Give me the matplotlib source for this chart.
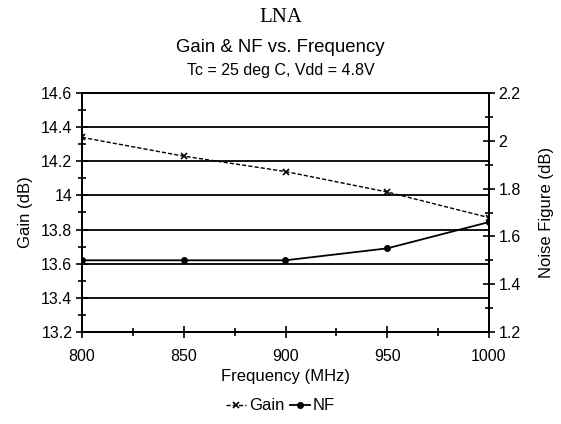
import matplotlib
matplotlib.use("Agg")
import matplotlib.pyplot as plt
from matplotlib.ticker import MultipleLocator

# dados
freq = [800, 850, 900, 950, 1000]
gain = [14.34, 14.23, 14.14, 14.02, 13.87]
nf = [1.50, 1.50, 1.50, 1.55, 1.66]

plt.rcParams['font.family'] = ['Liberation Sans', 'DejaVu Sans']

fig = plt.figure(figsize=(5.61, 4.24), dpi=100)
ax = fig.add_axes([82/561, 1 - 332/424, (489 - 82)/561, (332 - 93)/424])
ax2 = ax.twinx()

# Gain no eixo esquerdo
lg, = ax.plot(freq, gain, color="black", linestyle=(0, (3, 1.5)), linewidth=1,
              marker="x", markersize=5, markeredgewidth=1.2, label="Gain")
# NF no eixo direito
ln, = ax2.plot(freq, nf, color="black", linewidth=1.3,
               marker="o", markersize=4, label="NF")

ax.set_xlim(800, 1000)
ax.set_ylim(13.2, 14.6)
ax2.set_ylim(1.2, 2.2)

ax.xaxis.set_major_locator(MultipleLocator(50))
ax.xaxis.set_minor_locator(MultipleLocator(25))
ax.yaxis.set_minor_locator(MultipleLocator(0.1))
ax2.yaxis.set_minor_locator(MultipleLocator(0.1))

ax.set_yticks([13.2, 13.4, 13.6, 13.8, 14.0, 14.2, 14.4, 14.6])
ax.set_yticklabels(["13.2", "13.4", "13.6", "13.8", "14", "14.2", "14.4", "14.6"])
ax2.set_yticks([1.2, 1.4, 1.6, 1.8, 2.0, 2.2])
ax2.set_yticklabels(["1.2", "1.4", "1.6", "1.8", "2", "2.2"])

ax.grid(axis="y", which="major", color="black", linewidth=1.3)
ax.set_axisbelow(True)

for a in (ax, ax2):
    a.tick_params(which="both", direction="inout", labelsize=11.5, colors="black", width=1.2)
    a.tick_params(which="major", length=8)
    a.tick_params(which="minor", length=6)
    for s in a.spines.values():
        s.set_linewidth(1.3)
ax.tick_params(axis="y", pad=3)
ax2.tick_params(axis="y", pad=3)
ax.tick_params(axis="x", pad=8)

ax.set_xlabel("Frequency (MHz)", fontsize=12, labelpad=4)
ax.set_ylabel("Gain (dB)", fontsize=12, labelpad=6)
ax2.set_ylabel("Noise Figure (dB)", fontsize=12, labelpad=13)

fig.text(0.5, 1 - 18/424, "LNA", ha="center", va="center", fontsize=15,
         family="Liberation Serif")
fig.text(0.5, 1 - 47/424, "Gain & NF vs. Frequency", ha="center", va="center", fontsize=13.4)
fig.text(0.5, 1 - 71/424, "Tc = 25 deg C, Vdd = 4.8V", ha="center", va="center", fontsize=11.5)

fig.legend(handles=[lg, ln], loc="center", bbox_to_anchor=(0.5, 1 - 406/424), ncol=2,
           frameon=False, fontsize=12, handlelength=1.2, handletextpad=0.2,
           columnspacing=0.3)

fig.savefig("out.png", dpi=100)
